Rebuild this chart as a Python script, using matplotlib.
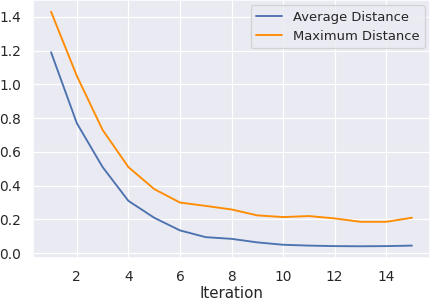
import numpy as np
import matplotlib
matplotlib.use('Agg')
import matplotlib.pyplot as plt
import seaborn as sns

sns.set_theme(style='darkgrid')

iterations = list(range(1, 16))
avg_dist = [1.19, 0.77, 0.51, 0.31, 0.21, 0.135, 0.095, 0.085, 0.064, 0.05,
            0.045, 0.042, 0.041, 0.042, 0.045]
max_dist = [1.43, 1.05, 0.73, 0.51, 0.38, 0.30, 0.28, 0.259, 0.224, 0.214,
            0.22, 0.206, 0.186, 0.186, 0.21]

fig, ax = plt.subplots(figsize=(4.8, 302 / 90), dpi=90)
ax.plot(iterations, avg_dist, color='#4c72b0', label='Average Distance')
ax.plot(iterations, max_dist, color='#ff8c00', label='Maximum Distance')
ax.set_xlabel('Iteration', labelpad=2)
ax.legend(loc='upper right', fontsize=10.5, borderaxespad=0.4)
fig.subplots_adjust(left=33 / 432, right=430 / 432, top=1.0, bottom=1 - 258 / 302)
plt.savefig('out.png')
